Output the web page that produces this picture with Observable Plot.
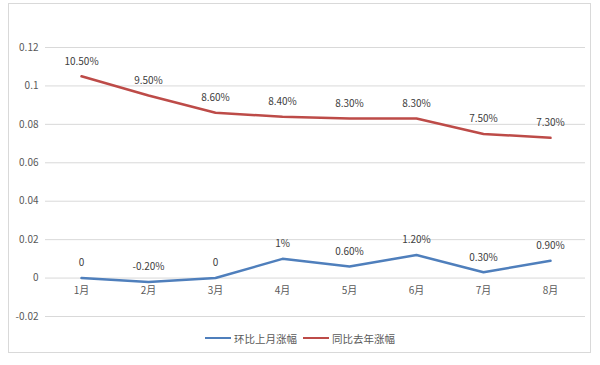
<!DOCTYPE html>
<html>
<head>
<meta charset="utf-8">
<script src="https://cdn.jsdelivr.net/npm/d3@7"></script>
<script src="https://cdn.jsdelivr.net/npm/@observablehq/plot@0.6"></script>
<style>
  body { margin: 0; background: #fff; font-family: "Noto Sans CJK SC", "Noto Sans", sans-serif; }
  #wrap { position: relative; width: 600px; height: 365px; }
  #frame { position: absolute; left: 8px; top: 3px; width: 583px; height: 350px; border: 1px solid #d9d9d9; box-sizing: border-box; pointer-events: none; }
  #chart { position: absolute; left: 0; top: 0; }
  #legend { position: absolute; left: 0; top: 329px; width: 600px; height: 18px; display: flex; justify-content: center; align-items: center; font-size: 10.5px; color: #595959; }
  .item { display: flex; align-items: center; margin: 0 3px; }
  .sw { width: 26px; height: 2.5px; margin-right: 3px; }
</style>
</head>
<body>
<div id="wrap">
  <div id="chart"></div>
  <div id="frame"></div>
  <div id="legend"></div>
</div>
<script>
const months = ["1月", "2月", "3月", "4月", "5月", "6月", "7月", "8月"];
const seriesNames = ["环比上月涨幅", "同比去年涨幅"];
const momValues = [0, -0.002, 0, 0.01, 0.006, 0.012, 0.003, 0.009];
const momLabels = ["0", "-0.20%", "0", "1%", "0.60%", "1.20%", "0.30%", "0.90%"];
const yoyValues = [0.105, 0.095, 0.086, 0.084, 0.083, 0.083, 0.075, 0.073];
const yoyLabels = ["10.50%", "9.50%", "8.60%", "8.40%", "8.30%", "8.30%", "7.50%", "7.30%"];
const yTicks = [-0.02, 0, 0.02, 0.04, 0.06, 0.08, 0.1, 0.12];
const yTickLabels = ["-0.02", "0", "0.02", "0.04", "0.06", "0.08", "0.1", "0.12"];
const colors = ["#4f7fbc", "#bd4b48"];

const data = [];
months.forEach((m, i) => {
  data.push({month: m, value: momValues[i], label: momLabels[i], series: seriesNames[0]});
  data.push({month: m, value: yoyValues[i], label: yoyLabels[i], series: seriesNames[1]});
});

const font = "'Noto Sans CJK SC', 'Noto Sans', sans-serif";

const plot = Plot.plot({
  width: 600,
  height: 329,
  marginLeft: 45,
  marginRight: 15,
  marginTop: 47,
  marginBottom: 13,
  style: { fontFamily: font, fontSize: "10px", color: "#595959", background: "transparent" },
  x: { type: "point", domain: months, padding: 0.5, axis: null },
  y: { domain: [-0.02, 0.12], ticks: yTicks, axis: null },
  color: { domain: seriesNames, range: colors },
  marks: [
    Plot.gridY(yTicks, { stroke: "#d9d9d9", strokeOpacity: 1, strokeWidth: 1 }),
    Plot.axisY(yTicks, { tickSize: 0, tickPadding: 7, label: null, tickFormat: (d) => yTickLabels[yTicks.indexOf(d)], fill: "#595959", fontSize: 10 }),
    Plot.text(months, { x: (d) => d, y: () => 0, dy: 13, text: (d) => d, fill: "#595959", fontSize: 10 }),
    Plot.line(data, { x: "month", y: "value", stroke: "series", strokeWidth: 2.5, strokeLinejoin: "round", strokeLinecap: "round" }),
    Plot.text(data, { x: "month", y: "value", text: "label", dy: -15, fill: "#404040", fontSize: 10 })
  ]
});
document.getElementById("chart").appendChild(plot);

const legend = document.getElementById("legend");
seriesNames.forEach((name, i) => {
  const item = document.createElement("div");
  item.className = "item";
  const sw = document.createElement("div");
  sw.className = "sw";
  sw.style.background = colors[i];
  const t = document.createElement("span");
  t.textContent = name;
  item.appendChild(sw);
  item.appendChild(t);
  legend.appendChild(item);
});
</script>
</body>
</html>
